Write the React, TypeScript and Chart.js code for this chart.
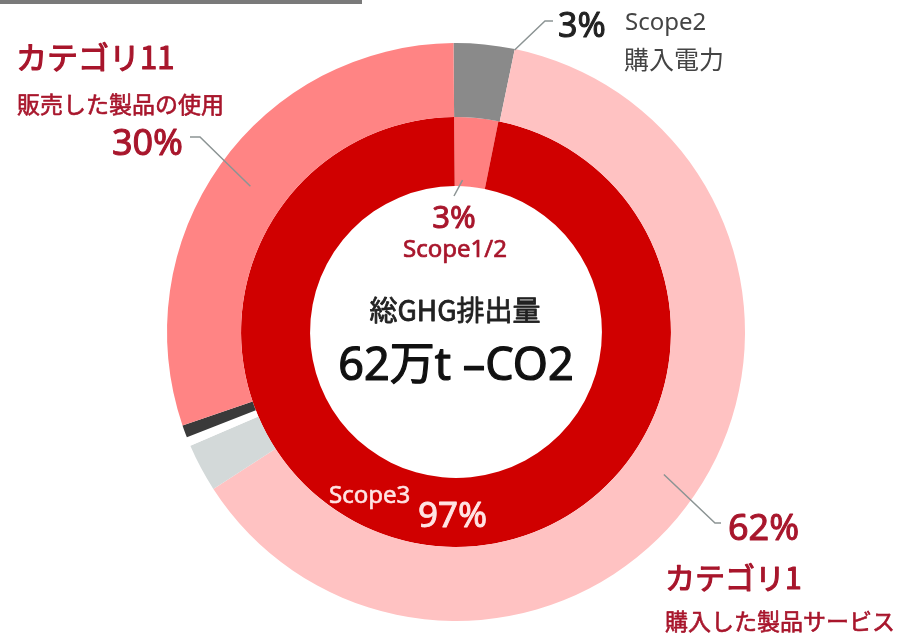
import React, { useEffect, useRef } from "react";
import { Chart, registerables } from "chart.js";
Chart.register(...registerables);

// ---- data ----
const outerLabels = ["Scope2 購入電力", "カテゴリ1 購入した製品サービス", "その他1", "その他2", "その他3", "カテゴリ11 販売した製品の使用"];
const outerValues = [3.4, 62.6, 2.7, 0.5, 0.7, 30.1];
const innerLabels = ["Scope1/2", "Scope3"];
const innerValues = [3.3, 96.7];
const totalTitle = "総GHG排出量";
const totalValue = "62万t –CO2";

// ---- styles ----
const outerColors = ["#8a8a8a", "#ffc2c2", "#d3d9d9", "#ffffff", "#3a3a3a", "#ff8484"];
const innerColors = ["#ff8080", "#d00000"];
const RED_TEXT = "#a8162c";
const FONT = "'Noto Sans', 'Noto Sans CJK JP', sans-serif";
const JFONT = "'Noto Sans CJK JP', 'Noto Sans', sans-serif";

function pt(el: any, angle: number, r: number) {
  return { x: el.x + Math.cos(angle) * r, y: el.y + Math.sin(angle) * r };
}

const labelPlugin = {
  id: "labels",
  afterDraw(chart: any) {
    const ctx = chart.ctx as CanvasRenderingContext2D;
    const outer = chart.getDatasetMeta(0).data;
    const inner = chart.getDatasetMeta(1).data;
    ctx.save();
    const text = (s: string, x: number, y: number, size: number, color: string, align: CanvasTextAlign = "left", base: CanvasTextBaseline = "alphabetic", heavy = 0, fam = FONT) => {
      ctx.font = `normal ${size}px ${fam}`;
      ctx.fillStyle = color;
      ctx.textAlign = align;
      ctx.textBaseline = base;
      ctx.fillText(s, x, y);
      if (heavy > 0) {
        ctx.strokeStyle = color;
        ctx.lineWidth = heavy;
        ctx.lineJoin = "round";
        ctx.strokeText(s, x, y);
      }
    };
    const line = (pts: { x: number; y: number }[]) => {
      ctx.beginPath();
      ctx.strokeStyle = "#8c9494";
      ctx.lineWidth = 1.5;
      ctx.moveTo(pts[0].x, pts[0].y);
      for (let i = 1; i < pts.length; i++) ctx.lineTo(pts[i].x, pts[i].y);
      ctx.stroke();
    };

    // Scope2 leader (end of gray slice, outer edge)
    {
      const el = outer[0].getProps(["x", "y", "endAngle", "outerRadius"], true);
      const p = pt(el, el.endAngle, el.outerRadius - 1);
      line([{ x: 553, y: 21 }, { x: 545, y: 21 }, p]);
    }
    // Category 11 leader
    {
      const p = outer[5].tooltipPosition(true);
      line([{ x: 190, y: 137 }, { x: 200, y: 137 }, p]);
    }
    // Category 1 leader
    {
      const p = outer[1].tooltipPosition(true);
      line([{ x: 721, y: 523 }, { x: 715, y: 523 }, p]);
    }
    // Scope1/2 leader
    {
      const el = inner[0].getProps(["x", "y", "startAngle", "endAngle", "innerRadius"], true);
      const p = pt(el, (el.startAngle * 0.75 + el.endAngle * 0.25), el.innerRadius + 6);
      line([p, { x: 454, y: 196 }]);
    }

    // Texts
    text("カテゴリ11", 16, 57, 31, RED_TEXT, "left", "middle", 1.2, JFONT);
    text("販売した製品の使用", 17, 104, 23, RED_TEXT, "left", "middle", 0.6, JFONT);
    text("30%", 183, 155, 36, RED_TEXT, "right", "alphabetic", 1.0);

    text("3%", 558, 37, 34, "#222222", "left", "alphabetic", 1.0);
    text("Scope2", 625, 30, 24, "#444444");
    text("購入電力", 624, 59, 25, "#444444", "left", "middle", 0, JFONT);

    text("3%", 454, 228, 31, RED_TEXT, "center", "alphabetic", 0.9);
    text("Scope1/2", 455, 257, 24, RED_TEXT, "center", "alphabetic", 0.7);

    text(totalTitle, 455, 310, 28, "#222222", "center", "middle", 0.8, JFONT);
    text(totalValue, 456, 380, 45, "#111111", "center", "alphabetic", 1.2);

    text("Scope3", 329, 503, 24, "#ffe4e4", "left", "alphabetic", 0.6);
    text("97%", 418, 527, 35, "#ffe4e4", "left", "alphabetic", 0.9);

    text("62%", 728, 540, 36, RED_TEXT, "left", "alphabetic", 1.0);
    text("カテゴリ1", 665, 578, 30, RED_TEXT, "left", "middle", 1.2, JFONT);
    text("購入した製品サービス", 665, 621, 23, RED_TEXT, "left", "middle", 0.6, JFONT);
    ctx.restore();
  },
};

export default function App() {
  const ref = useRef<HTMLCanvasElement>(null);
  useEffect(() => {
    if (!ref.current) return;
    const chart = new Chart(ref.current, {
      type: "doughnut",
      data: {
        labels: outerLabels,
        datasets: [
          { data: outerValues, backgroundColor: outerColors, borderWidth: 0, hoverBorderWidth: 0, hoverOffset: 0, weight: 74 } as any,
          { data: innerValues, backgroundColor: innerColors, borderWidth: 0, hoverBorderWidth: 0, hoverOffset: 0, weight: 69, labels: innerLabels } as any,
        ],
      },
      options: {
        animation: false,
        responsive: false,
        rotation: -0.5,
        cutout: "50.5%",
        layout: { padding: { left: 167, right: 154, top: 43, bottom: 14 } },
        plugins: { legend: { display: false }, tooltip: { enabled: false } },
        events: [],
      },
      plugins: [labelPlugin],
    });
    return () => chart.destroy();
  }, []);
  return (
    <div style={{ position: "absolute", left: 0, top: 0, width: 899, height: 635, background: "#fff" }}>
      <div style={{ position: "absolute", left: 0, top: 0, width: 362, height: 4, background: "#7a7a7a" }} />
      <canvas ref={ref} width={899} height={635} style={{ display: "block" }} />
    </div>
  );
}
